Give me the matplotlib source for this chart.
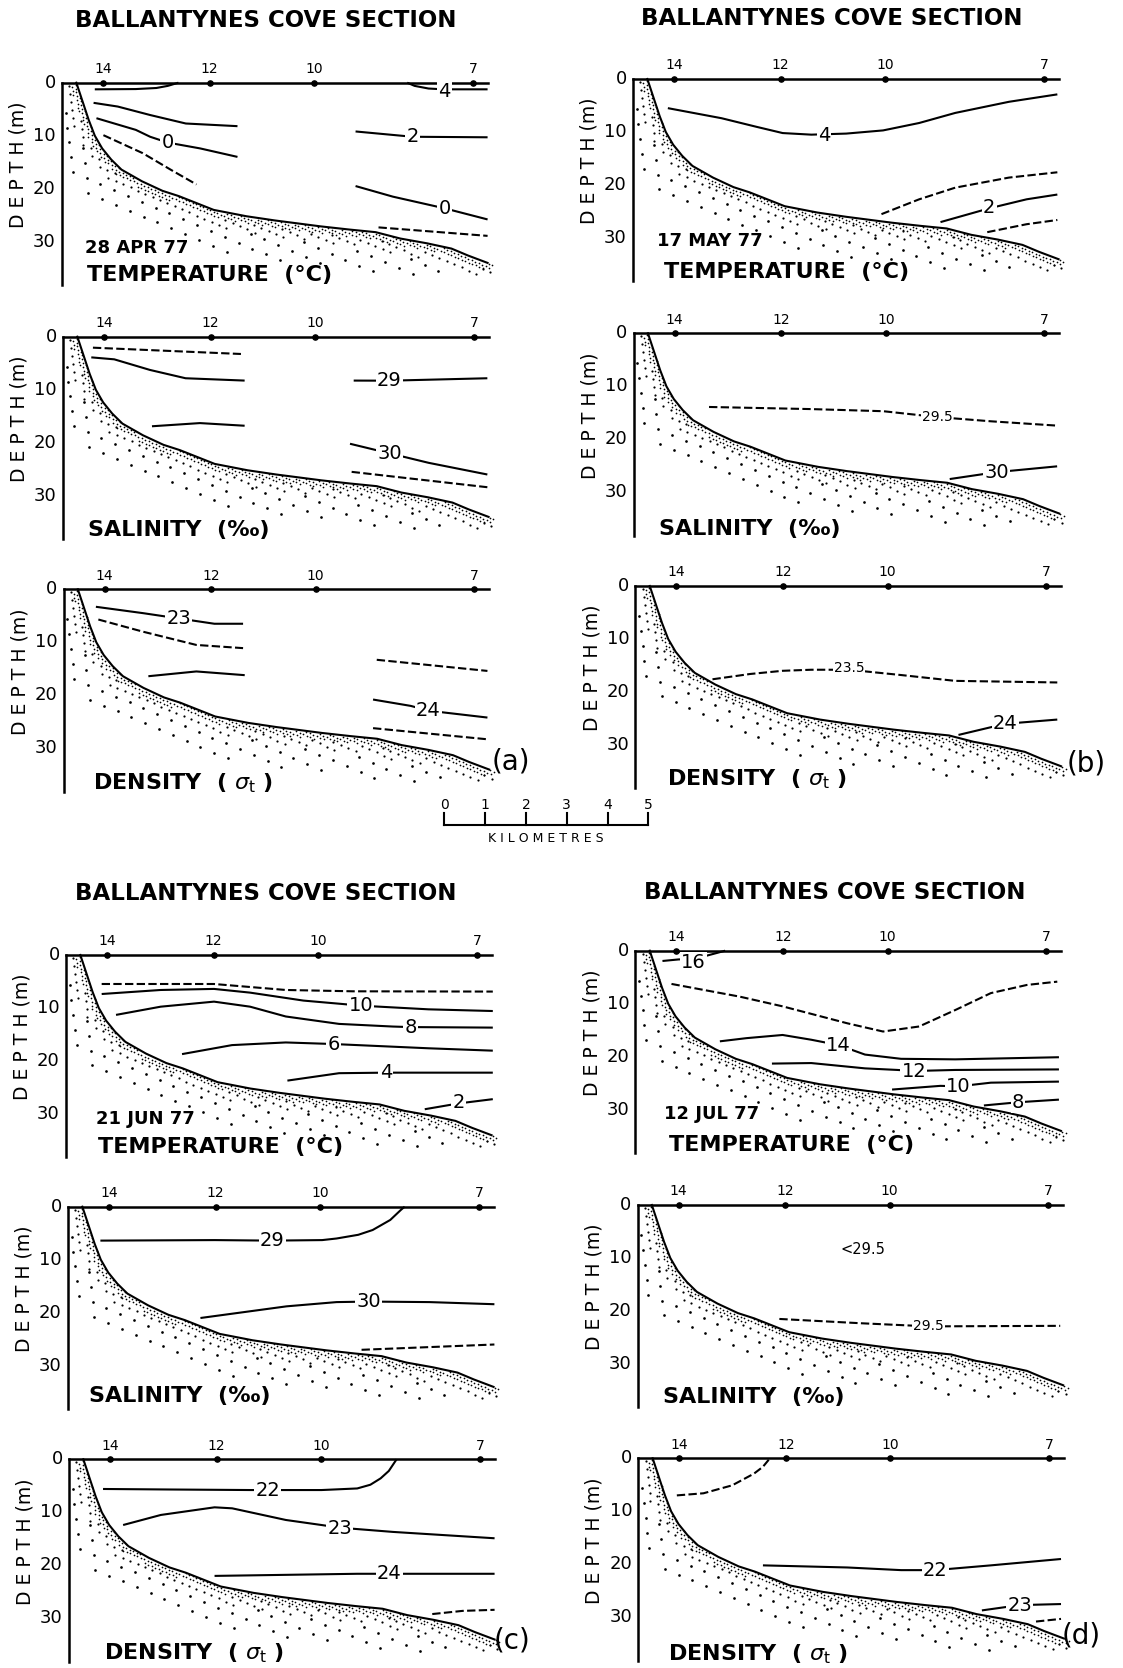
import numpy as np
import matplotlib.pyplot as plt

plt.rcParams['font.family'] = ['DejaVu Sans']

W, H = 1123, 1668
PX_KM = 41.0   # pixels per km on the page
PX_M = 5.3     # pixels per metre of depth

# stations along the section (km from the shore line of the plot)
station_km = [1.0, 3.6, 6.15, 10.02]
station_names = ['14', '12', '10', '7']
surface_end_km = 10.38
depth_ticks = [0, 10, 20, 30]

# bottom profile (km, m)
bottom_km = [0.35, 0.5, 0.65, 0.8, 0.98, 1.2, 1.45, 1.95, 2.45, 2.85, 3.7, 4.5,
             5.2, 6.3, 7.0, 7.65, 8.25, 8.9, 9.5, 9.9, 10.38]
bottom_depth = [0, 3.5, 7.0, 10.0, 12.4, 14.5, 16.4, 18.6, 20.4, 21.4, 24.0, 25.2,
                26.0, 27.1, 27.7, 28.2, 29.4, 30.3, 31.3, 32.6, 34.0]

# isolines: (km, depth, line kind, label, label position)
a_temp = [
    ([0.8, 1.8, 2.3, 2.58, 2.84], [1.25, 1.2, 1.0, 0.6, 0.0], 'solid', None, None),
    ([8.42, 8.6, 8.94, 9.3, 10.38], [0.0, 0.6, 1.1, 1.25, 1.25], 'solid', '4', (9.33, 1.6)),
    ([0.77, 1.36, 2.15, 3.02, 4.28], [3.8, 4.5, 6.1, 7.7, 8.2], 'solid', None, None),
    ([0.84, 1.8, 2.15, 2.58, 3.37, 4.28], [6.7, 8.9, 10.2, 11.3, 12.4, 14.0], 'solid', '0', (2.58, 11.3)),
    ([1.01, 1.97, 2.67, 3.28], [9.9, 13.3, 16.5, 19.2], 'dashed', None, None),
    ([7.16, 8.55, 10.38], [9.2, 10.2, 10.3], 'solid', '2', (8.55, 10.2)),
    ([7.16, 8.07, 9.33, 10.38], [19.5, 21.5, 23.7, 25.8], 'solid', '0', (9.33, 23.7)),
    ([7.72, 10.38], [27.3, 28.9], 'dashed', None, None),
]
a_sal = [
    ([0.73, 4.34], [2.07, 3.26], 'dashed', None, None),
    ([0.69, 1.25, 2.12, 2.99, 4.43], [3.9, 4.27, 6.27, 7.84, 8.28], 'solid', None, None),
    ([7.09, 7.96, 10.35], [8.28, 8.3, 7.84], 'solid', '29', (7.96, 8.3)),
    ([2.17, 3.34, 4.43], [16.9, 16.3, 16.8], 'solid', None, None),
    ([7.0, 7.96, 8.92, 10.35], [20.2, 22.0, 23.8, 26.0], 'solid', '30', (7.96, 22.0)),
    ([7.04, 10.35], [25.5, 28.4], 'dashed', None, None),
]
a_dens = [
    ([0.79, 1.94, 2.81, 3.68, 4.38], [3.3, 4.5, 5.5, 6.5, 6.5], 'solid', '23', (2.81, 5.5)),
    ([0.85, 1.94, 3.24, 4.38], [5.7, 8.0, 10.5, 11.1], 'dashed', None, None),
    ([2.07, 3.24, 4.42], [16.4, 15.5, 16.2], 'solid', None, None),
    ([7.64, 10.34], [13.3, 15.4], 'dashed', None, None),
    ([7.55, 8.47, 8.9, 10.34], [20.8, 22.0, 22.9, 24.2], 'solid', '24', (8.9, 22.9)),
    ([7.55, 10.34], [26.2, 28.3], 'dashed', None, None),
]
b_temp = [
    ([0.85, 2.16, 3.0, 3.65, 4.35, 5.2, 6.1, 6.98, 7.86, 9.17, 10.35],
     [5.5, 7.4, 9.0, 10.2, 10.5, 10.3, 9.7, 8.3, 6.4, 4.3, 2.9], 'solid', '4', (4.66, 10.6)),
    ([6.06, 6.98, 7.86, 9.17, 10.35], [25.5, 22.7, 20.5, 18.6, 17.6], 'dashed', None, None),
    ([7.5, 8.69, 9.6, 10.35], [27.0, 24.4, 22.7, 21.8], 'solid', '2', (8.69, 24.3)),
    ([8.64, 9.6, 10.35], [28.9, 27.4, 26.6], 'dashed', None, None),
]
b_sal = [
    ([1.84, 4.33, 6.09, 7.4, 8.71, 10.29], [13.9, 14.3, 14.7, 15.8, 16.6, 17.4], 'dashed', '29.5', (7.4, 15.7)),
    ([7.71, 8.85, 10.33], [27.5, 26.2, 25.1], 'solid', '30', (8.85, 26.2)),
]
b_dens = [
    ([1.88, 2.8, 3.59, 4.29, 5.21, 6.48, 7.8, 10.29],
     [17.6, 16.6, 16.0, 15.8, 15.8, 16.8, 17.9, 18.2], 'dashed', '23.5', (5.21, 15.5)),
    ([7.88, 9.02, 10.29], [28.1, 26.0, 25.2], 'solid', '24', (9.02, 26.0)),
]
c_temp = [
    ([0.87, 3.61, 5.36, 7.0, 10.41], [5.47, 5.47, 6.6, 6.85, 6.9], 'dashed', None, None),
    ([0.87, 2.31, 3.61, 4.49, 5.79, 6.75, 7.19, 8.84, 10.41],
     [7.36, 6.6, 6.4, 7.1, 8.6, 9.25, 9.56, 10.25, 10.57], 'solid', '10', (7.19, 9.56)),
    ([1.22, 2.31, 3.61, 4.49, 5.36, 6.66, 7.97, 8.4, 10.41],
     [11.3, 9.75, 8.8, 9.75, 11.6, 13.0, 13.5, 13.6, 13.7], 'solid', '8', (8.4, 13.6)),
    ([2.83, 4.05, 5.36, 6.53, 8.84, 10.41], [18.7, 17.0, 16.5, 16.8, 17.6, 18.05], 'solid', '6', (6.53, 16.8)),
    ([5.4, 6.66, 7.8, 10.41], [23.7, 22.3, 22.2, 22.2], 'solid', '4', (7.8, 22.2)),
    ([8.75, 9.58, 10.41], [29.1, 28.0, 27.2], 'solid', '2', (9.58, 27.9)),
]
c_sal = [
    ([0.79, 3.58, 4.98, 6.2, 6.55, 7.08, 7.43, 7.86, 8.12, 8.21],
     [6.4, 6.3, 6.4, 6.3, 6.0, 5.3, 4.4, 2.5, 0.6, 0.0], 'solid', '29', (4.98, 6.4)),
    ([3.23, 5.33, 6.55, 7.34, 8.82, 10.4], [21.0, 18.8, 18.0, 17.9, 18.0, 18.4], 'solid', '30', (7.34, 17.9)),
    ([7.16, 10.4], [27.0, 26.0], 'dashed', None, None),
]
c_dens = [
    ([0.83, 2.5, 4.42, 4.85, 6.16, 7.03, 7.35, 7.6, 7.8, 7.99],
     [5.6, 5.7, 5.8, 5.8, 5.8, 5.5, 4.8, 3.6, 2.2, 0.0], 'solid', '22', (4.85, 5.8)),
    ([1.32, 2.24, 3.55, 3.98, 5.29, 6.16, 6.6, 7.9, 10.38],
     [12.4, 10.5, 9.06, 9.25, 11.45, 12.4, 12.9, 13.7, 14.9], 'solid', '23', (6.6, 13.0)),
    ([3.55, 7.03, 7.81, 10.38], [22.0, 21.6, 21.6, 21.6], 'solid', '24', (7.81, 21.6)),
    ([8.86, 9.6, 10.38], [29.2, 28.6, 28.4], 'dashed', None, None),
]
d_temp = [
    ([0.66, 1.05, 1.4, 1.66, 2.0, 2.19], [1.94, 1.65, 1.55, 1.1, 0.4, 0.0], 'solid', '16', (1.42, 2.3)),
    ([0.88, 2.54, 3.59, 5.17, 6.04, 6.92, 7.8, 8.67, 9.55, 10.29],
     [6.27, 8.66, 10.5, 13.7, 15.25, 14.3, 11.2, 8.0, 6.46, 5.84], 'dashed', None, None),
    ([2.06, 2.71, 3.59, 4.29, 4.95, 5.6, 6.48, 7.8, 10.33],
     [17.1, 16.5, 15.9, 16.8, 17.8, 19.6, 20.4, 20.5, 20.1], 'solid', '14', (4.95, 17.8)),
    ([3.33, 4.29, 5.6, 6.39, 6.79, 7.8, 10.33], [21.3, 21.2, 22.2, 22.5, 22.7, 22.5, 22.4], 'solid', '12', (6.79, 22.7)),
    ([6.26, 7.44, 7.88, 8.67, 10.33], [26.2, 25.5, 25.6, 24.9, 24.7], 'solid', '10', (7.88, 25.6)),
    ([8.5, 9.33, 10.33], [29.2, 28.6, 28.1], 'solid', '8', (9.33, 28.6)),
]
d_sal = [
    ([3.46, 5.42, 7.1, 10.31], [21.5, 22.3, 22.9, 22.8], 'dashed', '29.5', (7.1, 22.9)),
]
d_dens = [
    ([0.94, 1.59, 2.29, 2.82, 3.04, 3.21], [7.0, 6.6, 5.1, 2.9, 1.6, 0.0], 'dashed', None, None),
    ([3.04, 5.1, 6.41, 7.24, 8.6, 10.31], [20.2, 20.6, 21.1, 21.1, 20.2, 19.0], 'solid', '22', (7.24, 21.1)),
    ([8.38, 9.3, 10.31], [28.7, 27.7, 27.5], 'solid', '23', (9.3, 27.7)),
    ([9.7, 10.31], [30.8, 30.3], 'dashed', None, None),
]

dates = {'a_temp': '28 APR 77', 'b_temp': '17 MAY 77', 'c_temp': '21 JUN 77', 'd_temp': '12 JUL 77'}
quantity = {'temp': 'TEMPERATURE  (°C)', 'sal': 'SALINITY  (‰)', 'dens': r'DENSITY  ( $\sigma_{\rm t}$ )'}

# panel name, isolines, page origin of (0 km, 0 m) in pixels, label offsets
panels = [
    ('a_temp', a_temp, 62, 82.7, (0.56, 31.2), (0.62, 36.3)),
    ('a_sal', a_sal, 63, 336.7, None, (0.6, 36.4)),
    ('a_dens', a_dens, 63.5, 589.3, None, (0.73, 36.5)),
    ('b_temp', b_temp, 633, 79, (0.58, 30.5), (0.76, 36.5)),
    ('b_sal', b_sal, 633.6, 333.3, None, (0.61, 36.9)),
    ('b_dens', b_dens, 635.4, 586, None, (0.77, 36.4)),
    ('c_temp', c_temp, 66, 955, (0.74, 31.0), (0.78, 36.2)),
    ('c_sal', c_sal, 68, 1206.7, None, (0.52, 35.8)),
    ('c_dens', c_dens, 69, 1459.3, None, (0.85, 36.6)),
    ('d_temp', d_temp, 635.4, 950.7, (0.7, 30.9), (0.83, 36.6)),
    ('d_sal', d_sal, 637.5, 1205, None, (0.61, 36.2)),
    ('d_dens', d_dens, 638.3, 1458.3, None, (0.72, 37.0)),
]
letters = {'a_dens': ('(a)', 10.9, 32.5), 'b_dens': ('(b)', 11.0, 33.4),
           'c_dens': ('(c)', 10.8, 34.1), 'd_dens': ('(d)', 10.8, 33.5)}

XMIN, XMAX, DTOP, DBOT = -2.0, 11.8, -5.0, 40.0


def stipple(ax):
    bx = np.array(bottom_km) * PX_KM
    by = np.array(bottom_depth) * PX_M
    seg = np.hypot(np.diff(bx), np.diff(by))
    s = np.concatenate([[0], np.cumsum(seg)])
    ss = np.linspace(0, s[-1], 700)
    cx = np.interp(ss, s, bx)
    cy = np.interp(ss, s, by)
    # tilted lattices so the dots do not line up in rows
    ang = np.deg2rad(23)
    for sp, dmin, dmax, dia in [(3.8, 0, 7, 1.7), (8.0, 7, 16, 2.2), (15.0, 16, 40, 2.7)]:
        n = int(700 / sp)
        i, j = np.meshgrid(np.arange(-n, n), np.arange(-n, n))
        u = (i + 0.5 * (j % 2)) * sp
        v = j * sp * 0.87
        px = (u * np.cos(ang) - v * np.sin(ang)).ravel()
        py = (u * np.sin(ang) + v * np.cos(ang)).ravel()
        keep = (px > 2.0) & (px < 10.55 * PX_KM) & (py > 1.5) & (py < 36.6 * PX_M)
        px, py = px[keep], py[keep]
        line = np.interp(px, bx, by)
        keep = py > line + 0.8
        px, py = px[keep], py[keep]
        dist = np.min(np.hypot(px[:, None] - cx[None, :], py[:, None] - cy[None, :]), axis=1)
        keep = (dist >= dmin) & (dist < dmax)
        ax.scatter(px[keep] / PX_KM, py[keep] / PX_M, s=(dia * 0.72) ** 2, c='black',
                   linewidths=0, zorder=2, clip_on=False)


def draw_panel(name, lines, ox, oy, date_pos, qty_pos):
    left = ox + XMIN * PX_KM
    top = oy + DTOP * PX_M
    wpx = (XMAX - XMIN) * PX_KM
    hpx = (DBOT - DTOP) * PX_M
    ax = fig.add_axes([left / W, 1 - (top + hpx) / H, wpx / W, hpx / H])
    ax.set_xlim(XMIN, XMAX)
    ax.set_ylim(DBOT, DTOP)
    ax.axis('off')

    stipple(ax)
    ax.plot(bottom_km, bottom_depth, color='black', lw=1.5, zorder=3)
    ax.plot([0, 0], [0, 38.2], color='black', lw=1.8, zorder=3)
    ax.plot([0, surface_end_km], [0, 0], color='black', lw=1.8, zorder=3)
    ax.scatter(station_km, [0] * len(station_km), s=14, c='black', zorder=4)
    for k, n in zip(station_km, station_names):
        ax.text(k, -2.6, n, ha='center', va='center', fontsize=10)
    for d in depth_ticks:
        ax.text(-0.15, d, str(d), ha='right', va='center', fontsize=13)
    ax.text(-1.07, 15.5, 'D E P T H (m)', rotation=90, ha='center', va='center', fontsize=13.5)

    for xs, ds, kind, lab, lpos in lines:
        ls = '-' if kind == 'solid' else (0, (4, 1.6))
        ax.plot(xs, ds, color='black', lw=1.5, ls=ls, zorder=3, solid_capstyle='butt')
        if lab is not None:
            fs = 10 if '.' in lab else 14
            ax.text(lpos[0], lpos[1], lab, ha='center', va='center', fontsize=fs, zorder=5,
                    bbox=dict(boxstyle='square,pad=0.06', fc='white', ec='none'))

    if date_pos is not None:
        ax.text(date_pos[0], date_pos[1], dates[name], ha='left', va='center',
                fontsize=13, fontweight='bold')
    kind = name.split('_')[1]
    ax.text(qty_pos[0], qty_pos[1], quantity[kind], ha='left', va='center',
            fontsize=16, fontweight='bold')
    if name == 'd_sal':
        ax.text(5.5, 8.4, '<29.5', ha='center', va='center', fontsize=10.5)
    if name in letters:
        t, lx, ly = letters[name]
        ax.text(lx, ly, t, ha='center', va='center', fontsize=20)


fig = plt.figure(figsize=(W / 100, H / 100), dpi=100)
base = fig.add_axes([0, 0, 1, 1])
base.set_xlim(0, W)
base.set_ylim(H, 0)
base.axis('off')

for x, y in [(266, 20), (832, 18), (266, 893), (835, 892)]:
    base.text(x, y, 'BALLANTYNES COVE SECTION', ha='center', va='center',
              fontsize=16.5, fontweight='bold')

for p in panels:
    draw_panel(*p)

# scale bar
scale_km = [0, 1, 2, 3, 4, 5]
x0, y0 = 444.3, 825
base.plot([x0, x0 + 5 * 40.8], [y0, y0], color='black', lw=1.5)
for k in scale_km:
    base.plot([x0 + k * 40.8] * 2, [y0, y0 - 12], color='black', lw=1.5)
    base.text(x0 + k * 40.8, y0 - 20, str(k), ha='center', va='center', fontsize=10)
base.text(x0 + 2.5 * 40.8, y0 + 13, 'K I L O M E T R E S', ha='center', va='center', fontsize=9)

fig.savefig('out.png', dpi=100)
